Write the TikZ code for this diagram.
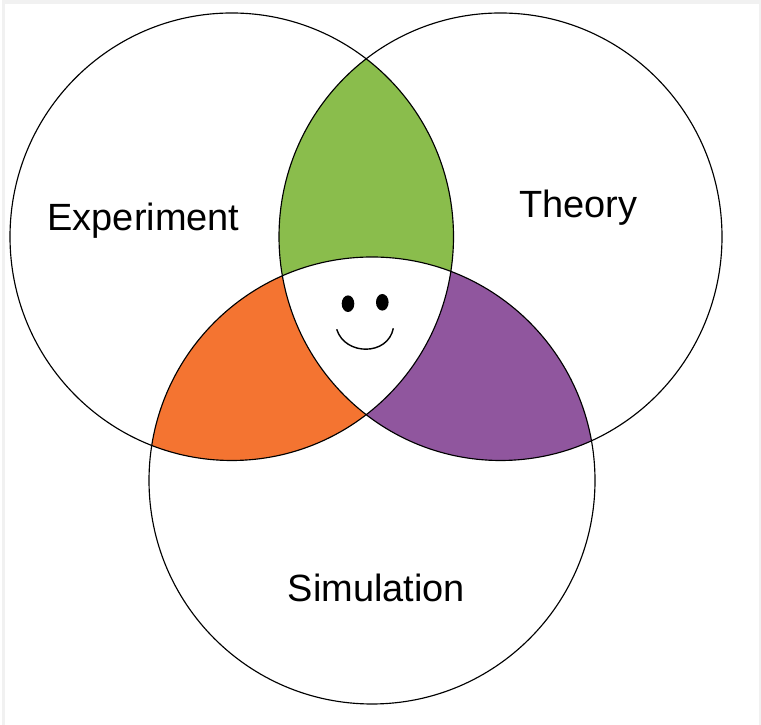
\documentclass[tikz,border=0pt]{standalone}
\usepackage{fontspec}
\setmainfont{Liberation Sans}
\definecolor{greenpart}{HTML}{8ABD4C}
\definecolor{orangepart}{HTML}{F47431}
\definecolor{purplepart}{HTML}{90569E}
\definecolor{framegray}{HTML}{F1F1F1}
\begin{document}
\begin{tikzpicture}
      \tikzstyle{ring}=[draw,line width=0.65pt]
      \tikzstyle{smile}=[draw,line width=0.8pt]
      \tikzstyle{label}=[font=\fontsize{21.6}{26}\selectfont,anchor=base]
      \useasboundingbox (0,0) rectangle (15.22,14.5);
      \path[fill=framegray] (0.04,0) rectangle (15.22,14.5);
      \path[fill=white] (0.1,0) rectangle (15.18,14.42);
      \coordinate (E) at (4.635,9.765);
      \coordinate (T) at (10.01,9.765);
      \coordinate (S) at (7.44,4.89);
      % coloured overlaps
      \begin{scope}
        \clip (E) ellipse (4.435 and 4.475);
        \path[fill=greenpart] (T) ellipse (4.43 and 4.475);
      \end{scope}
      \begin{scope}
        \clip (E) ellipse (4.435 and 4.475);
        \path[fill=orangepart] (S) ellipse (4.46 and 4.47);
      \end{scope}
      \begin{scope}
        \clip (T) ellipse (4.43 and 4.475);
        \path[fill=purplepart] (S) ellipse (4.46 and 4.47);
      \end{scope}
      \begin{scope}
        \clip (E) ellipse (4.435 and 4.475);
        \clip (T) ellipse (4.43 and 4.475);
        \path[fill=white] (S) ellipse (4.46 and 4.47);
      \end{scope}
      \path[ring] (E) ellipse (4.435 and 4.475);
      \path[ring] (T) ellipse (4.43 and 4.475);
      \path[ring] (S) ellipse (4.46 and 4.47);
      % face
      \path[fill=black] (6.96,8.426) ellipse (0.126 and 0.166);
      \path[fill=black] (7.646,8.454) ellipse (0.126 and 0.166);
      \path[smile] (6.734,7.914) .. controls (6.9,7.38) and (7.76,7.38) .. (7.866,7.934);
      \node[label] (experiment) at (2.87,9.88) {Experiment};
      \node[label] (theory) at (11.565,10.14) {Theory};
      \node[label] (simulation) at (7.53,2.46) {Simulation};
    \end{tikzpicture}
\end{document}
